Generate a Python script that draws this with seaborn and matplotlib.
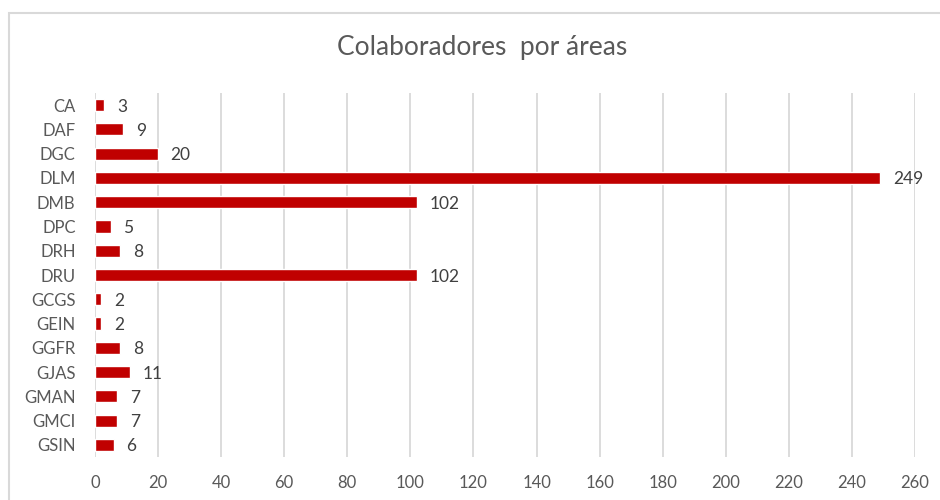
import seaborn as sns
import pandas as pd
import matplotlib.pyplot as plt
from matplotlib.patches import Rectangle

# Data
areas = ['CA', 'DAF', 'DGC', 'DLM', 'DMB', 'DPC', 'DRH', 'DRU',
         'GCGS', 'GEIN', 'GGFR', 'GJAS', 'GMAN', 'GMCI', 'GSIN']
colaboradores = [3, 9, 20, 249, 102, 5, 8, 102, 2, 2, 8, 11, 7, 7, 6]
x_ticks = list(range(0, 261, 20))

df = pd.DataFrame({'Area': areas, 'Colaboradores': colaboradores})

sns.set_style('white')
plt.rcParams['font.family'] = ['Lato', 'DejaVu Sans']

fig = plt.figure(figsize=(9.4, 5), dpi=100)
ax = fig.add_axes([95 / 940, 1 - 457 / 500, (915 - 95) / 940, (457 - 93) / 500])

# Chart border
fig.patches.append(Rectangle((9 / 940, -0.1), 1.0, 1 - 13 / 500 + 0.1,
                             transform=fig.transFigure, fill=False,
                             edgecolor='#D9D9D9', linewidth=1.5))

sns.barplot(data=df, y='Area', x='Colaboradores', color='#C00000',
            width=0.5, saturation=1, ax=ax, zorder=3)

for i, v in enumerate(colaboradores):
    ax.text(v + 4, i, str(v), va='center_baseline', ha='left',
            fontsize=12.5, color='#404040')

ax.set_xlim(0, 260)
ax.set_xticks(x_ticks)
ax.set_xlabel('')
ax.set_ylabel('')
ax.tick_params(axis='both', length=0, labelsize=12, labelcolor='#595959')
for lbl in ax.get_yticklabels():
    lbl.set_va('center_baseline')
ax.tick_params(axis='x', pad=13)
ax.tick_params(axis='y', pad=14)
ax.grid(axis='x', color='#D9D9D9', linewidth=1.3, zorder=0)
for s in ax.spines.values():
    s.set_visible(False)

fig.text(482 / 940, 1 - 48 / 500, 'Colaboradores  por áreas', ha='center',
         va='center', fontsize=19, color='#595959')

fig.savefig('out.png', dpi=100)
